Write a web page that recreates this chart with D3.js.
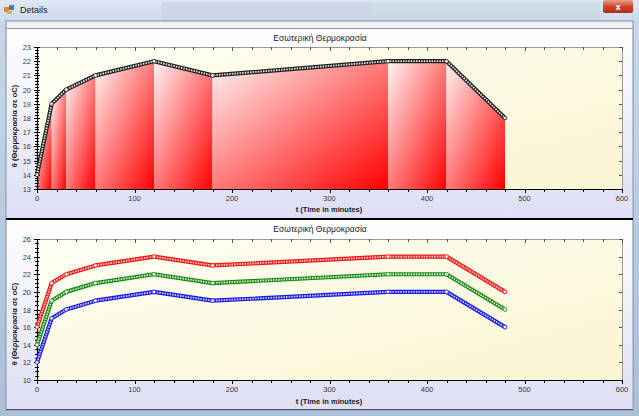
<!DOCTYPE html>
<html><head><meta charset="utf-8">
<script src="https://cdn.jsdelivr.net/npm/d3@7"></script>
<style>body{margin:0;overflow:hidden;background:#b9cde3}svg{display:block}</style>
</head><body><svg id="c" width="639" height="416"></svg>
<script>
// ---- data ----
const times = [0, 15, 30, 60, 120, 180, 360, 420, 480];
const innerTemp = [14, 19, 20, 21, 22, 21, 22, 22, 18];
const upperTemp = [16, 21, 22, 23, 24, 23, 24, 24, 20];
const middleTemp = [14, 19, 20, 21, 22, 21, 22, 22, 18];
const lowerTemp = [12, 17, 18, 19, 20, 19, 20, 20, 16];
const xTickLabels = [0, 100, 200, 300, 400, 500, 600];
const topYTickLabels = [13, 14, 15, 16, 17, 18, 19, 20, 21, 22, 23];
const bottomYTickLabels = [10, 12, 14, 16, 18, 20, 22, 24, 26];
const chartTitle = "Εσωτερική Θερμοκρασία";
const xTitle = "t (Time in minutes)";
const yTitle = "θ (Θερμοκρασία σε oC)";
const windowTitle = "Details";

const svg = d3.select("#c");
const defs = svg.append("defs");
function lin(id, x1, y1, x2, y2, stops) {
  const g = defs.append("linearGradient").attr("id", id)
    .attr("x1", x1).attr("y1", y1).attr("x2", x2).attr("y2", y2);
  stops.forEach(s => g.append("stop").attr("offset", s[0]).attr("stop-color", s[1]));
}
lin("frame", 0, 0, 0, 1, [[0, "#c9d9ea"], [1, "#a9bfd8"]]);
lin("titlebar", 0, 0, 0, 1, [[0, "#dde8f3"], [1, "#cbdaeb"]]);
lin("panel", 0, 0, 0, 1, [[0, "#ffffff"], [1, "#dedef5"]]);
lin("plotbg", 0, 0, 1, 1, [[0, "#fffff4"], [1, "#f9f5d2"]]);
lin("redfill", 0, 0, 1, 1, [[0, "#fff4f4"], [1, "#ff0000"]]);
lin("closebtn", 0, 0, 0, 1, [[0, "#e8a090"], [0.5, "#d0442c"], [1, "#b52a16"]]);

// ---- window chrome ----
svg.append("rect").attr("width", 639).attr("height", 416).attr("fill", "url(#frame)");
svg.append("rect").attr("width", 639).attr("height", 21).attr("fill", "url(#titlebar)");
svg.append("rect").attr("x", 162).attr("y", 2).attr("width", 210).attr("height", 17).attr("fill", "#c4d1e0").attr("opacity", 0.6);
svg.append("rect").attr("x", 372).attr("y", 2).attr("width", 228).attr("height", 17).attr("fill", "#c8d5e3").attr("opacity", 0.6);
svg.append("rect").attr("x", 603).attr("y", 0).attr("width", 30).attr("height", 13).attr("rx", 2).attr("fill", "url(#closebtn)");
svg.append("text").attr("x", 618).attr("y", 10).attr("text-anchor", "middle")
  .attr("font-family", "DejaVu Sans").attr("font-weight", "bold").attr("font-size", 8).attr("fill", "#fff").text("x");
// icon
svg.append("rect").attr("x", 4).attr("y", 7).attr("width", 5).attr("height", 5).attr("fill", "#d88a3a");
svg.append("rect").attr("x", 9).attr("y", 5).attr("width", 5).attr("height", 5).attr("fill", "#4a7bc0");
svg.append("rect").attr("x", 7).attr("y", 11).attr("width", 5).attr("height", 3).attr("fill", "#e0b040");
svg.append("text").attr("x", 20).attr("y", 13).attr("font-family", "Liberation Sans, Arial").attr("font-size", 9)
  .attr("fill", "#1a1a1a").text(windowTitle);

// client area
svg.append("rect").attr("x", 6).attr("y", 21).attr("width", 627).attr("height", 389)
  .attr("fill", "#f0f0f0").attr("stroke", "#7f8fa3").attr("stroke-width", 1);
svg.append("line").attr("x1", 6).attr("x2", 633).attr("y1", 28.5).attr("y2", 28.5).attr("stroke", "#8d99a8");
svg.append("rect").attr("x", 7).attr("y", 29).attr("width", 625).attr("height", 189).attr("fill", "url(#panel)");
svg.append("rect").attr("x", 7).attr("y", 220).attr("width", 625).attr("height", 189).attr("fill", "url(#panel)");
svg.append("rect").attr("x", 6).attr("y", 218).attr("width", 627).attr("height", 2).attr("fill", "#000");
svg.append("line").attr("x1", 6).attr("x2", 633).attr("y1", 409.5).attr("y2", 409.5).attr("stroke", "#555");

const font = "Liberation Sans, Arial, sans-serif";

function drawChart(cfg) {
  const {left, right, top, bottom, yDomain, yTicks, yMinor, panelMidY, titleY, xTitleY} = cfg;
  const x = d3.scaleLinear().domain([0, 600]).range([left, right]);
  const y = d3.scaleLinear().domain(yDomain).range([bottom, top]);
  const g = svg.append("g");
  g.append("rect").attr("x", left).attr("y", top).attr("width", right - left).attr("height", bottom - top)
    .attr("fill", "url(#plotbg)");

  if (cfg.area) {
    for (let i = 0; i < times.length - 1; i++) {
      const seg = [0, 1].map(k => ({t: times[i + k], v: cfg.area[i + k]}));
      const area = d3.area().x(d => x(d.t)).y0(y(yDomain[0])).y1(d => y(d.v));
      g.append("path").attr("d", area(seg)).attr("fill", "url(#redfill)");
    }
  }

  g.append("line").attr("x1", left).attr("x2", right).attr("y1", top + 0.5).attr("y2", top + 0.5).attr("stroke", "#9a9a9a");
  g.append("line").attr("x1", right + 0.5).attr("x2", right + 0.5).attr("y1", top).attr("y2", bottom).attr("stroke", "#9a9a9a");

  const xMinor = x.ticks(30);
  xMinor.forEach(t => {
    const px = Math.round(x(t)) + 0.5;
    const major = t % 100 === 0;
    g.append("line").attr("x1", px).attr("x2", px).attr("y1", bottom).attr("y2", bottom + (major ? 4 : 3)).attr("stroke", "#000");
    g.append("line").attr("x1", px).attr("x2", px).attr("y1", top).attr("y2", top + (major ? 4 : 3)).attr("stroke", "#555");
  });
  const yM = d3.range(yDomain[0], yDomain[1] + 1e-9, yMinor);
  yM.forEach(v => {
    const py = Math.round(y(v)) + 0.5;
    g.append("line").attr("x1", left - 2).attr("x2", left + 2).attr("y1", py).attr("y2", py).attr("stroke", "#000");
  });
  yTicks.forEach(v => {
    const py = Math.round(y(v)) + 0.5;
    g.append("line").attr("x1", left - 3).attr("x2", left + 3).attr("y1", py).attr("y2", py).attr("stroke", "#000");
    g.append("line").attr("x1", right - 3).attr("x2", right).attr("y1", py).attr("y2", py).attr("stroke", "#555");
  });

  g.append("line").attr("x1", left + 0.5).attr("x2", left + 0.5).attr("y1", top).attr("y2", bottom).attr("stroke", "#000").attr("stroke-width", 1.2);
  g.append("line").attr("x1", left).attr("x2", right + 1).attr("y1", bottom + 0.5).attr("y2", bottom + 0.5).attr("stroke", "#000").attr("stroke-width", 1.2);

  xTickLabels.forEach(t => {
    g.append("text").attr("x", x(t)).attr("y", bottom + 12).attr("text-anchor", "middle")
      .attr("font-family", font).attr("font-size", 7.5).attr("fill", "#3a3a3a").text(t);
  });
  yTicks.forEach(v => {
    g.append("text").attr("x", left - 6).attr("y", y(v) + 3).attr("text-anchor", "end")
      .attr("font-family", font).attr("font-size", 7.5).attr("fill", "#3a3a3a").text(v);
  });

  g.append("text").attr("x", 320).attr("y", titleY).attr("text-anchor", "middle")
    .attr("font-family", font).attr("font-size", 8.5).attr("fill", "#1a1a1a").text(chartTitle);
  g.append("text").attr("x", 329).attr("y", xTitleY).attr("text-anchor", "middle")
    .attr("font-family", font).attr("font-weight", "bold").attr("font-size", 7.5).attr("fill", "#1a1a1a").text(xTitle);
  g.append("text").attr("transform", `translate(17,${panelMidY}) rotate(-90)`).attr("text-anchor", "middle")
    .attr("font-family", font).attr("font-weight", "bold").attr("font-size", 7.5).attr("fill", "#1a1a1a").text(yTitle);

  const line = d3.line().x(d => x(d.t)).y(d => y(d.v));
  cfg.series.forEach(s => {
    const pts = times.map((t, i) => ({t, v: s.values[i]}));
    g.append("path").attr("d", line(pts)).attr("fill", "none").attr("stroke", s.color)
      .attr("stroke-width", 4.2).attr("stroke-linejoin", "round").attr("stroke-linecap", "round");
    g.append("path").attr("d", line(pts)).attr("fill", "none").attr("stroke", s.inner)
      .attr("stroke-width", 1.8).attr("stroke-dasharray", "1.5,1.1").attr("stroke-linejoin", "round");
    g.selectAll(null).data(pts).join("circle").attr("cx", d => x(d.t)).attr("cy", d => y(d.v))
      .attr("r", 1.8).attr("fill", "#fff").attr("stroke", s.color).attr("stroke-width", 0.7);
  });
}

drawChart({
  left: 37, right: 622, top: 47, bottom: 189,
  yDomain: [13, 23], yTicks: topYTickLabels, yMinor: 0.2,
  panelMidY: 126, titleY: 41, xTitleY: 212,
  area: innerTemp,
  series: [{values: innerTemp, color: "#222", inner: "#e4e4e4"}]
});
drawChart({
  left: 37, right: 622, top: 239, bottom: 380,
  yDomain: [10, 26], yTicks: bottomYTickLabels, yMinor: 0.5,
  panelMidY: 324, titleY: 232, xTitleY: 404,
  series: [
    {values: upperTemp, color: "#f01818", inner: "#ffd0d0"},
    {values: middleTemp, color: "#1a8a1a", inner: "#d0f0d0"},
    {values: lowerTemp, color: "#1a1ae8", inner: "#d0d0ff"}
  ]
});
</script>
</body></html>
